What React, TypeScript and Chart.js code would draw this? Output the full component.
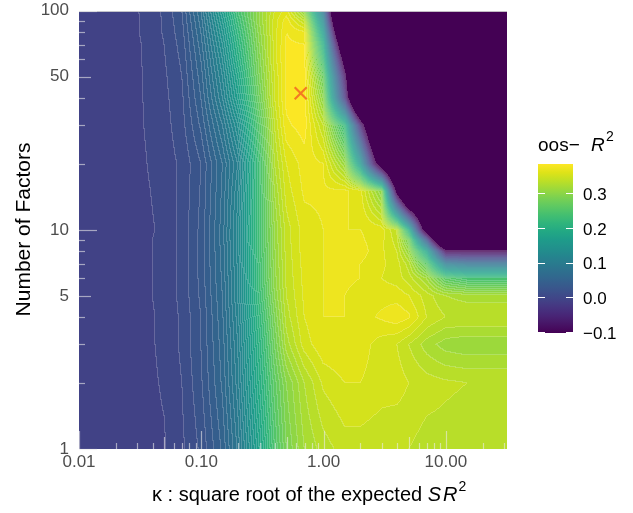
import React, { useEffect, useRef } from 'react';
import { Chart, registerables } from 'chart.js';

Chart.register(...registerables);

// ---- data ----
const KAPPA = [0.01, 0.02, 0.03, 0.05, 0.07, 0.1, 0.15, 0.2, 0.3, 0.4, 0.5, 0.7, 1, 1.5, 2, 3, 4, 5, 7, 10, 15, 20, 32];
const FACTORS = [1, 2, 3, 4, 5, 6, 7, 8, 9, 10, 15, 20, 30, 40, 50, 60, 70, 80, 90, 100];
// one row per FACTORS entry, one column per KAPPA entry
const OOS_R2 = [
  [-0.004, -0.004, -0.004, -0.001, 0.008, 0.022, 0.052, 0.092, 0.18, 0.25, 0.29, 0.32, 0.335, 0.345, 0.345, 0.342, 0.34, 0.34, 0.335, 0.335, 0.333, 0.332, 0.332],
  [-0.004, -0.004, -0.004, 0.001, 0.01, 0.028, 0.062, 0.105, 0.2, 0.265, 0.3, 0.33, 0.352, 0.36, 0.36, 0.355, 0.355, 0.35, 0.345, 0.342, 0.34, 0.34, 0.34],
  [-0.004, -0.004, -0.004, 0.002, 0.012, 0.03, 0.065, 0.11, 0.21, 0.28, 0.325, 0.355, 0.368, 0.37, 0.365, 0.355, 0.35, 0.34, 0.325, 0.315, 0.312, 0.312, 0.312],
  [-0.004, -0.004, -0.004, 0.002, 0.012, 0.03, 0.068, 0.115, 0.22, 0.29, 0.335, 0.36, 0.37, 0.37, 0.365, 0.372, 0.377, 0.372, 0.35, 0.34, 0.34, 0.34, 0.34],
  [-0.004, -0.004, -0.004, 0.003, 0.013, 0.032, 0.07, 0.12, 0.23, 0.3, 0.34, 0.362, 0.37, 0.37, 0.366, 0.366, 0.366, 0.36, 0.345, 0.33, 0.325, 0.325, 0.325],
  [-0.004, -0.004, -0.004, 0.003, 0.013, 0.033, 0.072, 0.12, 0.235, 0.305, 0.342, 0.363, 0.37, 0.372, 0.37, 0.36, 0.355, 0.345, 0.32, 0.26, 0.24, 0.24, 0.24],
  [-0.004, -0.004, -0.004, 0.003, 0.013, 0.033, 0.073, 0.122, 0.236, 0.306, 0.343, 0.364, 0.37, 0.375, 0.37, 0.362, 0.355, 0.335, 0.26, 0.1, 0.08, 0.08, 0.08],
  [-0.004, -0.004, -0.004, 0.003, 0.013, 0.033, 0.074, 0.123, 0.238, 0.308, 0.344, 0.365, 0.37, 0.375, 0.375, 0.362, 0.35, 0.31, 0.18, -0.1, -0.1, -0.1, -0.1],
  [-0.004, -0.004, -0.004, 0.003, 0.013, 0.033, 0.075, 0.125, 0.24, 0.31, 0.345, 0.365, 0.37, 0.372, 0.372, 0.363, 0.345, 0.28, 0.02, -0.4, -0.4, -0.4, -0.4],
  [-0.004, -0.004, -0.004, 0.002, 0.013, 0.033, 0.075, 0.125, 0.24, 0.31, 0.345, 0.365, 0.37, 0.37, 0.37, 0.365, 0.34, 0.2, -0.2, -0.4, -0.4, -0.4, -0.4],
  [-0.004, -0.004, -0.0035, 0.0035, 0.0125, 0.031, 0.072, 0.118, 0.24, 0.32, 0.355, 0.372, 0.372, 0.372, 0.365, 0.3, -0.15, -0.4, -0.4, -0.4, -0.4, -0.4, -0.4],
  [-0.004, -0.004, -0.003, 0.005, 0.012, 0.03, 0.07, 0.11, 0.24, 0.33, 0.36, 0.375, 0.37, 0.31, 0.16, -0.2, -0.4, -0.4, -0.4, -0.4, -0.4, -0.4, -0.4],
  [-0.004, -0.004, -0.002, 0.006, 0.016, 0.042, 0.09, 0.14, 0.26, 0.34, 0.378, 0.385, 0.34, 0.22, -0.05, -0.4, -0.4, -0.4, -0.4, -0.4, -0.4, -0.4, -0.4],
  [-0.004, -0.004, -0.002, 0.007, 0.018, 0.05, 0.11, 0.17, 0.28, 0.35, 0.383, 0.387, 0.3, -0.03, -0.4, -0.4, -0.4, -0.4, -0.4, -0.4, -0.4, -0.4, -0.4],
  [-0.004, -0.004, -0.002, 0.008, 0.02, 0.055, 0.12, 0.185, 0.29, 0.35, 0.383, 0.387, 0.27, -0.08, -0.4, -0.4, -0.4, -0.4, -0.4, -0.4, -0.4, -0.4, -0.4],
  [-0.004, -0.004, -0.002, 0.009, 0.022, 0.06, 0.13, 0.2, 0.295, 0.355, 0.383, 0.385, 0.23, -0.16, -0.4, -0.4, -0.4, -0.4, -0.4, -0.4, -0.4, -0.4, -0.4],
  [-0.004, -0.004, -0.002, 0.01, 0.024, 0.065, 0.14, 0.21, 0.3, 0.355, 0.382, 0.38, 0.2, -0.25, -0.4, -0.4, -0.4, -0.4, -0.4, -0.4, -0.4, -0.4, -0.4],
  [-0.004, -0.004, -0.001, 0.011, 0.026, 0.07, 0.15, 0.22, 0.305, 0.355, 0.38, 0.37, 0.16, -0.35, -0.4, -0.4, -0.4, -0.4, -0.4, -0.4, -0.4, -0.4, -0.4],
  [-0.004, -0.004, -0.001, 0.011, 0.028, 0.075, 0.16, 0.23, 0.31, 0.355, 0.375, 0.34, 0.12, -0.45, -0.45, -0.45, -0.45, -0.45, -0.45, -0.45, -0.45, -0.45, -0.45],
  [-0.004, -0.004, -0.001, 0.012, 0.03, 0.08, 0.17, 0.24, 0.31, 0.35, 0.365, 0.3, 0.08, -0.5, -0.5, -0.5, -0.5, -0.5, -0.5, -0.5, -0.5, -0.5, -0.5],
];

const BEST = [{ x: 0.65, y: 42 }];

const X_TICKS = [0.01, 0.1, 1, 10];
const X_TICK_LABELS = ['0.01', '0.10', '1.00', '10.00'];
const Y_TICKS = [1, 5, 10, 50, 100];
const Y_TICK_LABELS = ['1', '5', '10', '50', '100'];

const X_LOG_TICKS = [
  0.01, 0.02, 0.03, 0.04, 0.05, 0.06, 0.07, 0.08, 0.09,
  0.1, 0.2, 0.3, 0.4, 0.5, 0.6, 0.7, 0.8, 0.9,
  1, 2, 3, 4, 5, 6, 7, 8, 9,
  10, 20, 30,
];
const Y_LOG_TICKS = [1, 2, 3, 4, 5, 6, 7, 8, 9, 10, 20, 30, 40, 50, 60, 70, 80, 90, 100];

const LEGEND_VALUES = [-0.1, 0, 0.1, 0.2, 0.3];
const LEGEND_LABELS = ['\u22120.1', '0.0', '0.1', '0.2', '0.3'];

const R2_MIN = -0.1;
const R2_MAX = 0.387;
const CONTOUR_STEP = 0.01;

const X_MIN = 0.01;
const X_MAX = 31.6;
const Y_MIN = 1;
const Y_MAX = 100;

// ---- colours ----
const VIRIDIS = [
  '#440154', '#471365', '#482475', '#463480', '#414487', '#3B528B', '#355F8D',
  '#2F6C8E', '#2A788E', '#25848E', '#21908C', '#1E9B8A', '#22A884', '#2FB47C',
  '#44BF70', '#5EC962', '#7AD151', '#9BD93C', '#BDDF26', '#DFE318', '#FDE725',
].map((h) => [parseInt(h.slice(1, 3), 16), parseInt(h.slice(3, 5), 16), parseInt(h.slice(5, 7), 16)]);

function viridis(t: number): number[] {
  const tt = Math.max(0, Math.min(1, t));
  const p = tt * (VIRIDIS.length - 1);
  const i = Math.min(VIRIDIS.length - 2, Math.floor(p));
  const f = p - i;
  const a = VIRIDIS[i];
  const b = VIRIDIS[i + 1];
  return [a[0] + (b[0] - a[0]) * f, a[1] + (b[1] - a[1]) * f, a[2] + (b[2] - a[2]) * f];
}

const FONT = "'Liberation Sans', Arial, Helvetica, sans-serif";

function locate(arr: number[], l: number): [number, number] {
  let k = 0;
  while (k < arr.length - 2 && l > arr[k + 1]) k++;
  const f = Math.min(1, Math.max(0, (l - arr[k]) / (arr[k + 1] - arr[k])));
  return [k, f];
}

const heatPlugin = {
  id: 'heat',
  beforeDatasetsDraw(chart: any) {
    const { ctx, chartArea: ca, scales } = chart;
    const xs = scales.x;
    const ys = scales.y;
    const left = Math.round(ca.left);
    const top = Math.round(ca.top);
    const W = Math.round(ca.right) - left;
    const H = Math.round(ca.bottom) - top;
    const lx = KAPPA.map((v) => Math.log10(v));
    const ly = FACTORS.map((v) => Math.log10(v));
    const cx: [number, number][] = [];
    const cy: [number, number][] = [];
    for (let i = 0; i < W; i++) cx.push(locate(lx, Math.log10(xs.getValueForPixel(left + i + 0.5))));
    for (let j = 0; j < H; j++) cy.push(locate(ly, Math.log10(ys.getValueForPixel(top + j + 0.5))));
    const lev = new Int32Array(W * H);
    for (let j = 0; j < H; j++) {
      const [r, fy] = cy[j];
      const z0 = OOS_R2[r];
      const z1 = OOS_R2[r + 1];
      for (let i = 0; i < W; i++) {
        const [c, fx] = cx[i];
        const v =
          (1 - fy) * ((1 - fx) * z0[c] + fx * z0[c + 1]) +
          fy * ((1 - fx) * z1[c] + fx * z1[c + 1]);
        lev[j * W + i] = v <= R2_MIN ? -100000 : Math.floor(v / CONTOUR_STEP);
      }
    }
    const img = ctx.createImageData(W, H);
    const d = img.data;
    const a = 0.2;
    for (let j = 0; j < H; j++) {
      for (let i = 0; i < W; i++) {
        const p = j * W + i;
        const L = lev[p];
        let col: number[];
        if (L === -100000) col = VIRIDIS[0];
        else col = viridis(((L + 0.5) * CONTOUR_STEP - R2_MIN) / (R2_MAX - R2_MIN));
        let line = false;
        if (i < W - 1 && lev[p + 1] !== L) line = true;
        if (j < H - 1 && lev[p + W] !== L) line = true;
        const q = p * 4;
        if (line) {
          d[q] = col[0] * (1 - a) + 255 * a;
          d[q + 1] = col[1] * (1 - a) + 255 * a;
          d[q + 2] = col[2] * (1 - a) + 255 * a;
        } else {
          d[q] = col[0];
          d[q + 1] = col[1];
          d[q + 2] = col[2];
        }
        d[q + 3] = 255;
      }
    }
    ctx.putImageData(img, left, top);

    ctx.save();
    ctx.strokeStyle = 'rgba(210,210,210,0.9)';
    ctx.lineWidth = 1;
    ctx.beginPath();
    ctx.moveTo(left, top + 0.5);
    ctx.lineTo(left + W, top + 0.5);
    ctx.stroke();

    // log ticks (bottom and left)
    ctx.strokeStyle = 'rgba(235,235,235,0.6)';
    ctx.lineWidth = 1.2;
    const tickLen = (v: number) => {
      const m = v / Math.pow(10, Math.floor(Math.log10(v) + 1e-9));
      if (Math.abs(m - 1) < 1e-6) return 18;
      if (Math.abs(m - 5) < 1e-6) return 12;
      return 6;
    };
    const bottom = top + H;
    X_LOG_TICKS.forEach((v) => {
      const px = Math.round(xs.getPixelForValue(v)) + 0.5;
      ctx.beginPath();
      ctx.moveTo(px, bottom);
      ctx.lineTo(px, bottom - tickLen(v));
      ctx.stroke();
    });
    Y_LOG_TICKS.forEach((v) => {
      const py = Math.round(ys.getPixelForValue(v)) + 0.5;
      ctx.beginPath();
      ctx.moveTo(left, py);
      ctx.lineTo(left + tickLen(v), py);
      ctx.stroke();
    });
    ctx.restore();
  },
  afterDraw(chart: any) {
    const { ctx } = chart;
    ctx.save();
    ctx.fillStyle = '#000';
    ctx.font = `21px ${FONT}`;
    ctx.textAlign = 'center';
    ctx.textBaseline = 'middle';
    ctx.save();
    ctx.translate(24, 229.5);
    ctx.rotate(-Math.PI / 2);
    ctx.fillText('Number of Factors', 0, 0);
    ctx.restore();

    // x title
    ctx.textAlign = 'left';
    ctx.textBaseline = 'alphabetic';
    let x = 152;
    const base = 501;
    ctx.font = `20px ${FONT}`;
    const t1 = '\u03BA : square root of the expected ';
    ctx.fillText(t1, x, base);
    x += ctx.measureText(t1).width;
    ctx.font = `italic 20px ${FONT}`;
    ctx.fillText('S', x, base);
    x += ctx.measureText('S').width + 2;
    ctx.fillText('R', x, base);
    x += ctx.measureText('R').width + 1;
    ctx.font = `14px ${FONT}`;
    ctx.fillText('2', x, base - 10);

    // legend title
    ctx.font = `19px ${FONT}`;
    ctx.fillText('oos\u2212', 538, 151);
    ctx.font = `italic 19px ${FONT}`;
    ctx.fillText('R', 591, 151);
    ctx.font = `14px ${FONT}`;
    ctx.fillText('2', 606, 141);

    // colour bar
    const bx = 538, bw = 35, bTop = 164, bBot = 333;
    const g = ctx.createLinearGradient(0, bBot, 0, bTop);
    for (let k = 0; k <= 40; k++) {
      const c = viridis(k / 40);
      g.addColorStop(k / 40, `rgb(${c[0]},${c[1]},${c[2]})`);
    }
    ctx.fillStyle = g;
    ctx.fillRect(bx, bTop, bw, bBot - bTop);
    ctx.strokeStyle = '#fff';
    ctx.lineWidth = 1;
    ctx.font = `17px ${FONT}`;
    ctx.fillStyle = '#000';
    ctx.textBaseline = 'middle';
    LEGEND_VALUES.forEach((v, k) => {
      const py = bBot - ((v - R2_MIN) / (R2_MAX - R2_MIN)) * (bBot - bTop);
      const yy = Math.round(py) - 0.5;
      ctx.beginPath();
      ctx.moveTo(bx, yy);
      ctx.lineTo(bx + 7, yy);
      ctx.moveTo(bx + bw - 7, yy);
      ctx.lineTo(bx + bw, yy);
      ctx.stroke();
      ctx.fillText(LEGEND_LABELS[k], 583, py + 1);
    });
    ctx.restore();
  },
};

export default function App() {
  const ref = useRef<HTMLCanvasElement>(null);
  useEffect(() => {
    const chart = new Chart(ref.current as HTMLCanvasElement, {
      type: 'scatter',
      data: {
        datasets: [
          {
            data: BEST,
            pointStyle: 'crossRot',
            pointRadius: 8.5,
            pointBorderWidth: 2.2,
            borderColor: '#F47A22',
            backgroundColor: '#F47A22',
          } as any,
        ],
      },
      options: {
        animation: false,
        responsive: false,
        devicePixelRatio: 1,
        layout: { padding: { top: 10, right: 126, left: 0, bottom: 0 } },
        plugins: { legend: { display: false }, tooltip: { enabled: false } },
        scales: {
          x: {
            type: 'logarithmic',
            min: X_MIN,
            max: X_MAX,
            grid: { display: false, drawTicks: false },
            border: { display: false },
            afterBuildTicks: (s: any) => {
              s.ticks = X_TICKS.map((v) => ({ value: v }));
            },
            afterFit: (s: any) => {
              s.height = 64;
              s.paddingLeft = 0;
              s.paddingRight = 0;
            },
            ticks: {
              autoSkip: false,
              maxRotation: 0,
              padding: 3,
              color: '#4D4D4D',
              font: { family: FONT, size: 17 },
              callback: (_v: any, i: number) => X_TICK_LABELS[i],
            },
          },
          y: {
            type: 'logarithmic',
            min: Y_MIN,
            max: Y_MAX,
            grid: { display: false, drawTicks: false },
            border: { display: false },
            afterBuildTicks: (s: any) => {
              s.ticks = Y_TICKS.map((v) => ({ value: v }));
            },
            afterFit: (s: any) => {
              s.width = 79;
              s.paddingTop = 0;
              s.paddingBottom = 0;
            },
            ticks: {
              autoSkip: false,
              padding: 10,
              color: '#4D4D4D',
              font: { family: FONT, size: 17 },
              callback: (_v: any, i: number) => Y_TICK_LABELS[i],
            },
          },
        },
      } as any,
      plugins: [heatPlugin],
    });
    return () => chart.destroy();
  }, []);
  return (
    <div style={{ position: 'fixed', left: 0, top: 0, width: 633, height: 513, background: '#fff' }}>
      <canvas ref={ref} width={633} height={513} style={{ width: 633, height: 513, display: 'block' }} />
    </div>
  );
}
